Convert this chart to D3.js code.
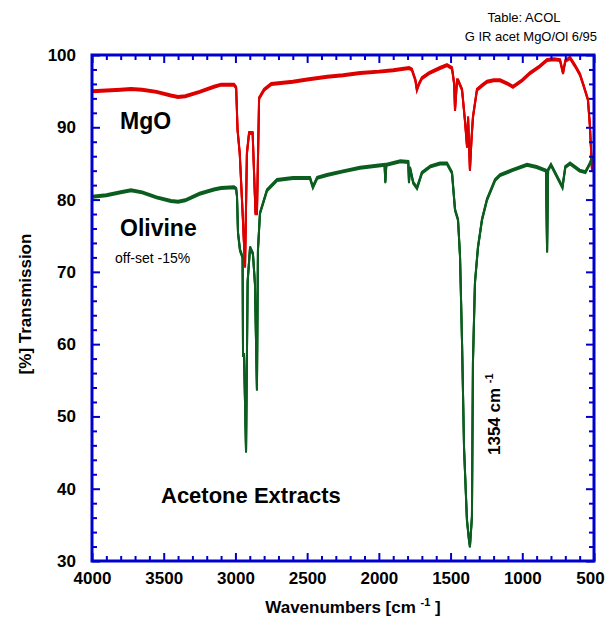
<!DOCTYPE html>
<html><head><meta charset="utf-8">
<script src="https://cdn.jsdelivr.net/npm/d3@7"></script>
<style>
body{margin:0;background:#fff;}
text{font-family:"Liberation Sans",Arial,sans-serif;}
</style></head>
<body><svg id="c" width="607" height="618"></svg>
<script>
// ---- data ----
const mgoWn = [4000,3900,3800,3728,3650,3550,3450,3400,3350,3250,3150,3100,3010,2995,2985,2970,2950,2933,2920,2905,2880,2860,2850,2835,2800,2750,2600,2500,2360,2250,2130,2000,1900,1790,1770,1745,1735,1720,1700,1650,1574,1525,1490,1475,1469,1455,1448,1420,1400,1385,1378,1365,1355,1344,1316,1280,1246,1200,1155,1100,1065,1000,946,880,827,780,737,716,700,667,632,598,570,542,528,514,502];
const mgoT  = [95.0,95.1,95.2,95.3,95.2,94.9,94.4,94.2,94.3,94.9,95.6,95.9,95.9,95.5,89.6,86.4,78.2,70.7,86.4,89.2,89.2,78.1,78.1,94.0,95.2,96.0,96.3,96.6,97.0,97.2,97.5,97.7,97.9,98.2,98.0,96.5,95.2,96.0,96.8,97.5,98.2,98.6,98.2,96.0,92.4,96.5,96.5,95.2,91.0,87.3,91.4,84.1,88.0,91.4,95.2,95.8,96.3,96.5,96.5,96.0,95.6,96.5,97.5,98.4,99.3,99.4,99.3,97.5,99.2,99.6,98.5,97.3,95.6,93.8,90.0,84.1,84.0];

const olWn = [4000,3900,3800,3728,3650,3550,3450,3400,3350,3250,3150,3100,3010,2995,2989,2982,2968,2950,2947,2940,2926,2915,2898,2878,2864,2850,2843,2829,2780,2710,2599,2480,2460,2430,2362,2250,2131,2000,1960,1955,1948,1850,1795,1790,1783,1760,1734,1700,1640,1574,1525,1490,1469,1448,1434,1420,1406,1386,1372,1365,1351,1344,1330,1309,1281,1246,1190,1155,1065,967,900,835,827,820,800,720,700,667,600,560,528,514,502];
const olT  = [80.4,80.6,81.0,81.3,81.0,80.3,79.8,79.7,79.9,80.8,81.4,81.6,81.7,81.5,80.4,75.4,73.0,72.0,58.5,58.5,45.1,68.6,73.4,72.5,68.4,53.7,73.0,78.1,81.3,82.7,83.0,83.0,81.7,83.0,83.4,83.9,84.4,84.7,84.8,82.4,84.8,85.3,85.2,82.4,84.4,82.3,81.6,83.7,84.6,85.0,85.0,83.7,78.6,77.2,72.1,60.2,45.6,35.7,33.0,32.0,36.1,57.5,68.5,73.4,77.2,80.0,82.7,83.4,84.1,84.8,84.5,84.0,72.8,84.1,84.8,81.7,84.5,85.0,84.0,83.8,85.0,85.7,85.8];

const xMajor = [4000,3500,3000,2500,2000,1500,1000,500];
const xMinor = d3.range(500,4001,100).filter(v=>v%500!==0);
const yMajor = [30,40,50,60,70,80,90,100];
const yMinor = d3.range(30,101,2).filter(v=>v%10!==0);

// ---- layout ----
const L=92,R=594,T=55,B=561;
const svg=d3.select("#c");
const x=d3.scaleLinear().domain([4000,500]).range([L,R]);
const y=d3.scaleLinear().domain([30,100]).range([B,T]);
const blue="#0000cc";

svg.append("clipPath").attr("id","clip").append("rect")
  .attr("x",L).attr("y",T).attr("width",R-L).attr("height",B-T);

function drawSeries(wn,vals,color){
  const pts=wn.map((w,i)=>[w,vals[i]]);
  const line=d3.line().x(d=>x(d[0])).y(d=>y(d[1]));
  const g=svg.append("g").attr("clip-path","url(#clip)");
  [-1,0,1].forEach(dy=>{
    g.append("path").attr("d",line(pts)).attr("transform",`translate(0,${dy})`)
     .attr("fill","none").attr("stroke",color).attr("stroke-width",2)
     .attr("stroke-linejoin","miter");
  });
}
drawSeries(mgoWn,mgoT,"#dd0000");
drawSeries(olWn,olT,"#0b5e1f");

function styleAxis(g){
  g.selectAll(".domain").remove();
  g.selectAll(".tick line").attr("stroke",blue).attr("stroke-width",2);
  g.selectAll("text").attr("font-size",17).attr("font-weight","bold").attr("fill","#000")
   .attr("font-family","Liberation Sans, Arial, sans-serif");
}
const fmt=d3.format("d");
// bottom
const bx=svg.append("g").attr("transform",`translate(0,${B})`)
  .call(d3.axisBottom(x).tickValues(xMajor).tickSize(-8).tickSizeOuter(0).tickPadding(11).tickFormat(fmt)).call(styleAxis);
bx.selectAll(".tick text").filter(d=>d===500).attr("dx",-4);
svg.append("g").attr("transform",`translate(0,${B})`)
  .call(d3.axisBottom(x).tickValues(xMinor).tickSize(-5).tickSizeOuter(0).tickFormat("")).call(styleAxis);
// top
svg.append("g").attr("transform",`translate(0,${T})`)
  .call(d3.axisTop(x).tickValues(xMajor).tickSize(-8).tickSizeOuter(0).tickFormat("")).call(styleAxis);
svg.append("g").attr("transform",`translate(0,${T})`)
  .call(d3.axisTop(x).tickValues(xMinor).tickSize(-5).tickSizeOuter(0).tickFormat("")).call(styleAxis);
// left
svg.append("g").attr("transform",`translate(${L},0)`)
  .call(d3.axisLeft(y).tickValues(yMajor).tickSize(-8).tickSizeOuter(0).tickPadding(16).tickFormat(fmt)).call(styleAxis);
svg.append("g").attr("transform",`translate(${L},0)`)
  .call(d3.axisLeft(y).tickValues(yMinor).tickSize(-5).tickSizeOuter(0).tickFormat("")).call(styleAxis);
// right
svg.append("g").attr("transform",`translate(${R},0)`)
  .call(d3.axisRight(y).tickValues(yMajor).tickSize(-8).tickSizeOuter(0).tickFormat("")).call(styleAxis);
svg.append("g").attr("transform",`translate(${R},0)`)
  .call(d3.axisRight(y).tickValues(yMinor).tickSize(-5).tickSizeOuter(0).tickFormat("")).call(styleAxis);

// frame
svg.append("rect").attr("x",L).attr("y",T).attr("width",R-L).attr("height",B-T)
  .attr("fill","none").attr("stroke",blue).attr("stroke-width",3);

// texts
function txt(xp,yp,s,size,weight,anchor){
  return svg.append("text").attr("x",xp).attr("y",yp).text(s)
    .attr("font-size",size).attr("font-weight",weight||"normal")
    .attr("text-anchor",anchor||"start").attr("fill","#000");
}
txt(524,22,"Table: ACOL",13,"normal","middle");
txt(597,41,"G IR acet MgO/Ol 6/95",13,"normal","end");
txt(120,129,"MgO",23,"bold");
txt(120,236,"Olivine",23,"bold");
txt(115,263,"off-set -15%",14,"normal");
txt(161,503,"Acetone Extracts",22,"bold");

// x title
const xt=svg.append("text").attr("x",353).attr("y",613).attr("text-anchor","middle")
  .attr("font-size",17).attr("font-weight","bold");
xt.append("tspan").text("Wavenumbers [cm ");
xt.append("tspan").text("-1").attr("font-size",11).attr("dy",-7);
xt.append("tspan").text(" ]").attr("dy",7);

// y title
svg.append("text").attr("transform","translate(31,304) rotate(-90)").attr("text-anchor","middle")
  .attr("font-size",17).attr("font-weight","bold").text("[%] Transmission");

// peak label
const pl=svg.append("text").attr("transform","translate(500,455) rotate(-90)")
  .attr("font-size",17).attr("font-weight","bold");
pl.append("tspan").text("1354 cm ");
pl.append("tspan").text("-1").attr("font-size",11).attr("dy",-7);
</script></body></html>
